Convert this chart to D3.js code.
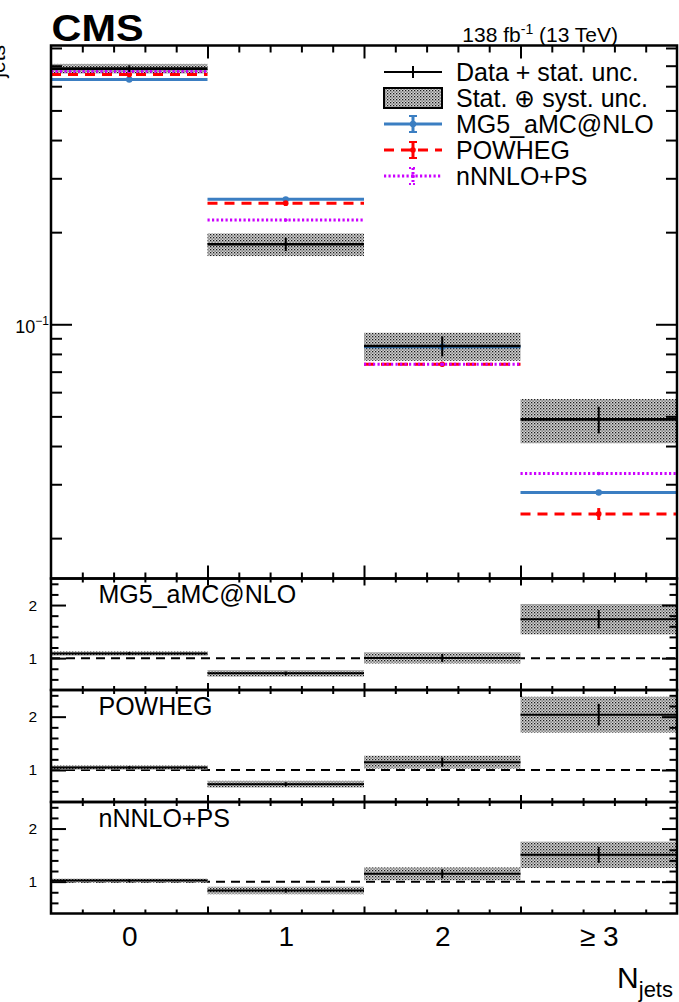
<!DOCTYPE html>
<html>
<head>
<meta charset="utf-8">
<script src="https://cdn.jsdelivr.net/npm/d3@7"></script>
<style>
  body { margin: 0; background: #fff; }
  svg { display: block; font-family: "Liberation Sans", Arial, Helvetica, sans-serif; }
</style>
</head>
<body>
<svg id="chart" width="679" height="1002"></svg>
<script>
// ---- data: normalised jet multiplicity ----
const categories = ["0", "1", "2", "\u2265 3"];
const binCenters = [0, 1, 2, 3];
const dataValues = [0.685, 0.1826, 0.0849, 0.0489];
const dataStatRel = [0.025, 0.05, 0.075, 0.10];     // relative stat. unc.
const dataTotalRel = [0.036, 0.085, 0.105, 0.165];  // relative stat. (+) syst. unc.
const mg5Values = [0.631, 0.256, 0.0845, 0.0282];
const mg5Rel = [0.004, 0.008, 0.01, 0.012];
const powhegValues = [0.655, 0.2485, 0.074, 0.024];
const powhegRel = [0.005, 0.02, 0.015, 0.045];
const nnloValues = [0.672, 0.219, 0.074, 0.0325];
const nnloRel = [0.003, 0.006, 0.01, 0.01];
const legendLabels = ["Data + stat. unc.", "Stat. \u2295 syst. unc.", "MG5_aMC@NLO", "POWHEG", "nNNLO+PS"];
const ratioLabels = ["MG5_aMC@NLO", "POWHEG", "nNNLO+PS"];
const mainMajorTicks = [0.1];
const mainMinorTicks = [0.02, 0.03, 0.04, 0.05, 0.06, 0.07, 0.08, 0.09, 0.2, 0.3, 0.4, 0.5, 0.6, 0.7, 0.8];
const ratioMajorTicks = [1, 2];
const ratioMinorTicks = [0.6, 0.8, 1.2, 1.4, 1.6, 1.8, 2.2, 2.4];
const xMajorTicks = [0.5, 1.5, 2.5];
const xMinorTicks = [-0.3, -0.1, 0.1, 0.3, 0.7, 0.9, 1.1, 1.3, 1.7, 1.9, 2.1, 2.3, 2.7, 2.9, 3.1, 3.3];

// ---- layout ----
const L = 51, R = 677;
const mainTop = 45.5, mainBot = 578.5;
const panels = [
  { top: 578.5, bot: 690 },
  { top: 690, bot: 802 },
  { top: 802, bot: 913.5 }
];
const BLUE = "#3b7ec2", RED = "#ff0000", MAG = "#cc00ff";

const svg = d3.select("#chart");
const defs = svg.append("defs");
const pat = defs.append("pattern").attr("id", "stipple")
  .attr("patternUnits", "userSpaceOnUse").attr("width", 3).attr("height", 3);
pat.append("rect").attr("width", 3).attr("height", 3).attr("fill", "#d4d4d4");
pat.append("rect").attr("width", 1.3).attr("height", 1.3).attr("fill", "#1a1a1a");
pat.append("rect").attr("x", 1.5).attr("y", 1.5).attr("width", 1.2).attr("height", 1.2).attr("fill", "#444");

const x = d3.scaleLinear().domain([-0.5, 3.5]).range([L, R]);
const yMain = d3.scaleLog().domain([0.01476, 0.815]).range([mainBot, mainTop]);

// ---- helpers ----
function styleAxis(g, width) {
  g.select(".domain").remove();
  g.selectAll(".tick line").attr("stroke", "#000").attr("stroke-width", width || 2);
}
function frameAxes(scaleY, top, bot, yMaj, yMin, yMajLen, yMinLen, xMajLen, xMinLen, xMajLenB, xMinLenB) {
  const g = svg.append("g");
  g.append("g").attr("transform", `translate(${L},0)`)
    .call(d3.axisLeft(scaleY).tickValues(yMin).tickSize(-yMinLen).tickFormat(""))
    .call(a => styleAxis(a));
  g.append("g").attr("transform", `translate(${R},0)`)
    .call(d3.axisRight(scaleY).tickValues(yMin).tickSize(-yMinLen).tickFormat(""))
    .call(a => styleAxis(a));
  g.append("g").attr("transform", `translate(${R},0)`)
    .call(d3.axisRight(scaleY).tickValues(yMaj).tickSize(-yMajLen).tickFormat(""))
    .call(a => styleAxis(a));
  g.append("g").attr("transform", `translate(0,${top})`)
    .call(d3.axisTop(x).tickValues(xMinorTicks).tickSize(-xMinLen).tickFormat(""))
    .call(a => styleAxis(a));
  g.append("g").attr("transform", `translate(0,${top})`)
    .call(d3.axisTop(x).tickValues(xMajorTicks).tickSize(-xMajLen).tickFormat(""))
    .call(a => styleAxis(a));
  g.append("g").attr("transform", `translate(0,${bot})`)
    .call(d3.axisBottom(x).tickValues(xMinorTicks).tickSize(-xMinLenB).tickFormat(""))
    .call(a => styleAxis(a));
  g.append("g").attr("transform", `translate(0,${bot})`)
    .call(d3.axisBottom(x).tickValues(xMajorTicks).tickSize(-xMajLenB).tickFormat(""))
    .call(a => styleAxis(a));
  return g;
}

// ---- main panel ----
const main = svg.append("g");
main.selectAll("rect.band").data(binCenters).join("rect")
  .attr("x", i => x(i - 0.5)).attr("width", i => x(i + 0.5) - x(i - 0.5))
  .attr("y", i => yMain(dataValues[i] * (1 + dataTotalRel[i])))
  .attr("height", i => yMain(dataValues[i] * (1 - dataTotalRel[i])) - yMain(dataValues[i] * (1 + dataTotalRel[i])))
  .attr("fill", "url(#stipple)");

const preds = [
  { vals: mg5Values, rel: mg5Rel, color: BLUE, dash: null, width: 3, r: 3.2 },
  { vals: powhegValues, rel: powhegRel, color: RED, dash: "10,7", width: 3, r: 2.8 },
  { vals: nnloValues, rel: nnloRel, color: MAG, dash: "2.2,2.3", width: 3, r: 1.8 }
];
preds.forEach(p => {
  const g = main.append("g");
  g.selectAll("line.h").data(binCenters).join("line")
    .attr("x1", i => x(i - 0.5)).attr("x2", i => x(i + 0.5))
    .attr("y1", i => yMain(p.vals[i])).attr("y2", i => yMain(p.vals[i]))
    .attr("stroke", p.color).attr("stroke-width", p.width)
    .attr("stroke-dasharray", p.dash);
  g.selectAll("line.v").data(binCenters).join("line")
    .attr("x1", i => x(i)).attr("x2", i => x(i))
    .attr("y1", i => yMain(p.vals[i] * (1 + p.rel[i])))
    .attr("y2", i => yMain(p.vals[i] * (1 - p.rel[i])))
    .attr("stroke", p.color).attr("stroke-width", 3);
  g.selectAll("circle").data(binCenters).join("circle")
    .attr("cx", i => x(i)).attr("cy", i => yMain(p.vals[i])).attr("r", p.r)
    .attr("fill", p.color);
});
main.selectAll("line.dh").data(binCenters).join("line")
  .attr("x1", i => x(i - 0.5)).attr("x2", i => x(i + 0.5))
  .attr("y1", i => yMain(dataValues[i])).attr("y2", i => yMain(dataValues[i]))
  .attr("stroke", "#000").attr("stroke-width", 2.6);
main.selectAll("line.dv").data(binCenters).join("line")
  .attr("x1", i => x(i)).attr("x2", i => x(i))
  .attr("y1", i => yMain(dataValues[i] * (1 + dataStatRel[i])))
  .attr("y2", i => yMain(dataValues[i] * (1 - dataStatRel[i])))
  .attr("stroke", "#000").attr("stroke-width", 2);

frameAxes(yMain, mainTop, mainBot, mainMajorTicks, mainMinorTicks, 21, 11, 13, 7, 13, 6);
const yLab = svg.append("g").attr("transform", `translate(${L},0)`)
  .call(d3.axisLeft(yMain).tickValues(mainMajorTicks).tickSize(-21).tickPadding(2).tickFormat(""))
  .call(a => styleAxis(a));
yLab.selectAll(".tick text").attr("font-size", 18).attr("dy", "0.45em").attr("fill", "#000")
  .each(function () {
    const t = d3.select(this);
    t.append("tspan").text("10");
    t.append("tspan").attr("font-size", 12).attr("dy", -8).text("\u22121");
  });
svg.append("rect").attr("x", L).attr("y", mainTop).attr("width", R - L).attr("height", mainBot - mainTop)
  .attr("fill", "none").attr("stroke", "#000").attr("stroke-width", 2.5);

// ---- ratio panels ----
panels.forEach((pn, k) => {
  const y = d3.scaleLinear().domain([0.4, 2.5]).range([pn.bot, pn.top]);
  const pv = preds[k].vals;
  const g = svg.append("g");
  g.append("line").attr("x1", L).attr("x2", R).attr("y1", y(1)).attr("y2", y(1))
    .attr("stroke", "#000").attr("stroke-width", 2).attr("stroke-dasharray", "9,6");
  g.selectAll("rect").data(binCenters).join("rect")
    .attr("x", i => x(i - 0.5)).attr("width", i => x(i + 0.5) - x(i - 0.5))
    .attr("y", i => y(dataValues[i] / pv[i] * (1 + dataTotalRel[i])))
    .attr("height", i => y(dataValues[i] / pv[i] * (1 - dataTotalRel[i])) - y(dataValues[i] / pv[i] * (1 + dataTotalRel[i])))
    .attr("fill", "url(#stipple)");
  g.selectAll("line.rh").data(binCenters).join("line")
    .attr("x1", i => x(i - 0.5)).attr("x2", i => x(i + 0.5))
    .attr("y1", i => y(dataValues[i] / pv[i])).attr("y2", i => y(dataValues[i] / pv[i]))
    .attr("stroke", "#000").attr("stroke-width", 2);
  g.selectAll("line.rv").data(binCenters).join("line")
    .attr("x1", i => x(i)).attr("x2", i => x(i))
    .attr("y1", i => y(dataValues[i] / pv[i] * (1 + dataStatRel[i])))
    .attr("y2", i => y(dataValues[i] / pv[i] * (1 - dataStatRel[i])))
    .attr("stroke", "#000").attr("stroke-width", 2);

  frameAxes(y, pn.top, pn.bot, ratioMajorTicks, ratioMinorTicks, 15, 7.5, 7, 4, 7, 4);
  svg.append("g").attr("transform", `translate(${L},0)`)
    .call(d3.axisLeft(y).tickValues(ratioMajorTicks).tickSize(-15).tickPadding(14).tickFormat(d3.format("d")))
    .call(a => styleAxis(a))
    .call(a => a.selectAll(".tick text").attr("font-size", 15.5).attr("fill", "#000"));
  svg.append("rect").attr("x", L).attr("y", pn.top).attr("width", R - L).attr("height", pn.bot - pn.top)
    .attr("fill", "none").attr("stroke", "#000").attr("stroke-width", 2.5);
  svg.append("text").attr("x", 98.5).attr("y", pn.top + 24.5).attr("font-size", 25)
    .text(ratioLabels[k]);
});

// ---- x tick labels & title ----
svg.append("g").attr("transform", `translate(0,${panels[2].bot})`)
  .call(d3.axisBottom(x).tickValues(binCenters).tickSize(0).tickPadding(13).tickFormat((d, i) => categories[i]))
  .call(a => a.select(".domain").remove())
  .call(a => a.selectAll(".tick text").attr("font-size", 28).attr("fill", "#000"));

const xt = svg.append("text").attr("x", 673).attr("y", 988).attr("text-anchor", "end").attr("font-size", 30);
xt.append("tspan").text("N");
xt.append("tspan").attr("font-size", 22).attr("dy", 9).text("jets");

// y title, running off the left edge of the page
const yt = svg.append("text").attr("transform", "translate(-3,45) rotate(-90)")
  .attr("text-anchor", "end").attr("font-size", 28);
yt.append("tspan").text("1/\u03c3 d\u03c3/dN");
yt.append("tspan").attr("font-size", 21).attr("dy", 8).text("jets");

// ---- header ----
svg.append("text").attr("x", 51.5).attr("y", 40.7).attr("font-size", 36).attr("font-weight", "bold")
  .attr("textLength", 92).attr("lengthAdjust", "spacingAndGlyphs").text("CMS");
const lumi = svg.append("text").attr("x", 618).attr("y", 41.7).attr("text-anchor", "end").attr("font-size", 21);
lumi.append("tspan").text("138 fb");
lumi.append("tspan").attr("font-size", 14).attr("dy", -8).text("-1");
lumi.append("tspan").attr("dy", 8).text(" (13 TeV)");

// ---- legend ----
const lg = svg.append("g");
const lx0 = 384, lx1 = 442, lcx = 413, ltx = 456;
const rowY = [72, 98, 124, 150, 176];
lg.append("line").attr("x1", lx0).attr("x2", lx1).attr("y1", rowY[0]).attr("y2", rowY[0]).attr("stroke", "#000").attr("stroke-width", 2);
lg.append("line").attr("x1", lcx).attr("x2", lcx).attr("y1", rowY[0] - 6).attr("y2", rowY[0] + 6).attr("stroke", "#000").attr("stroke-width", 2);
lg.append("rect").attr("x", lx0).attr("y", rowY[1] - 10).attr("width", lx1 - lx0).attr("height", 20)
  .attr("fill", "url(#stipple)").attr("stroke", "#000").attr("stroke-width", 2);
preds.forEach((p, j) => {
  const yy = rowY[2 + j];
  lg.append("line").attr("x1", lx0).attr("x2", lx1).attr("y1", yy).attr("y2", yy)
    .attr("stroke", p.color).attr("stroke-width", p.width).attr("stroke-dasharray", p.dash);
  lg.append("line").attr("x1", lcx).attr("x2", lcx).attr("y1", yy - 8).attr("y2", yy + 8)
    .attr("stroke", p.color).attr("stroke-width", 3).attr("stroke-dasharray", j === 2 ? "2,2" : null);
  [yy - 8, yy + 8].forEach(cy => lg.append("line").attr("x1", lcx - 4).attr("x2", lcx + 4).attr("y1", cy).attr("y2", cy)
    .attr("stroke", p.color).attr("stroke-width", 2).attr("stroke-dasharray", j === 2 ? "2,2" : null));
  lg.append("circle").attr("cx", lcx).attr("cy", yy).attr("r", p.r).attr("fill", p.color);
});
lg.selectAll("text").data(legendLabels).join("text")
  .attr("x", ltx).attr("y", (d, i) => rowY[i] + 9).attr("font-size", 25).text(d => d);
</script>
</body>
</html>
